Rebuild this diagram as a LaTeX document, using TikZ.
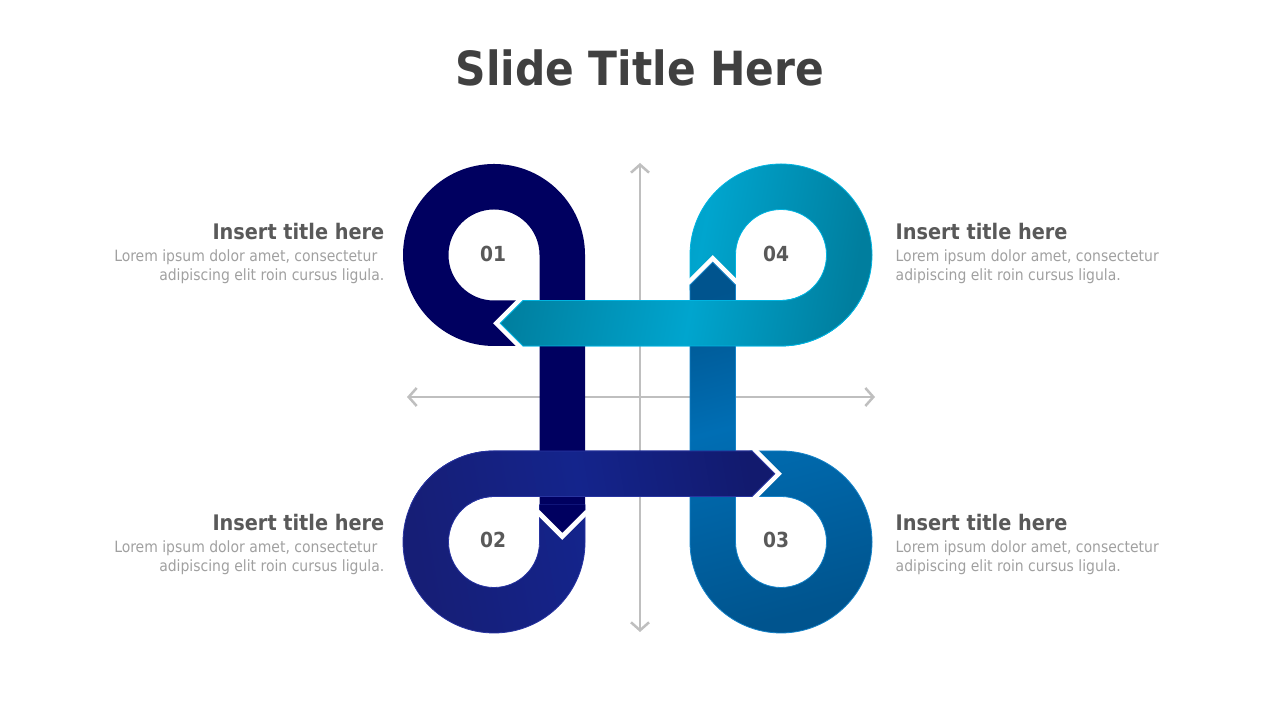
\documentclass[tikz,border=0pt]{standalone}
\usepackage{fontspec}
\setmainfont{DejaVu Sans Condensed}
\usetikzlibrary{arrows.meta}

\definecolor{titlegray}{RGB}{64,64,64}
\definecolor{numgray}{RGB}{89,89,89}
\definecolor{loremgray}{RGB}{160,160,160}
\definecolor{axisgray}{RGB}{191,191,191}
\definecolor{navyA}{RGB}{0,0,96}
\definecolor{blueBa}{RGB}{22,30,118}
\definecolor{blueBb}{RGB}{20,36,140}
\definecolor{blueBc}{RGB}{18,26,110}
\definecolor{blueBedge}{RGB}{40,52,160}
\definecolor{blueCa}{RGB}{0,84,142}
\definecolor{blueCb}{RGB}{0,110,180}
\definecolor{blueCedge}{RGB}{20,130,200}
\definecolor{tealDa}{RGB}{0,126,158}
\definecolor{tealDb}{RGB}{0,165,206}
\definecolor{tealDedge}{RGB}{0,180,225}

\pgfdeclarehorizontalshading{shadeB}{100bp}{color(0bp)=(blueBa); color(25bp)=(blueBa); color(50bp)=(blueBb); color(75bp)=(blueBc); color(100bp)=(blueBc)}
\pgfdeclareverticalshading{shadeC}{100bp}{color(0bp)=(blueCa); color(25bp)=(blueCa); color(55bp)=(blueCb); color(75bp)=(blueCa); color(100bp)=(blueCa)}
\pgfdeclarehorizontalshading{shadeD}{100bp}{color(0bp)=(tealDa); color(25bp)=(tealDa); color(52bp)=(tealDb); color(75bp)=(tealDa); color(100bp)=(tealDa)}

% loop 02 and loop 04 are drawn twice (second time clipped), so keep their paths here
\newcommand{\shapeB}{%
\draw[headline] (7.52,2.69)--(7.7475,2.4625)--(7.52,2.235);
\shadedraw[shading=shadeB, shading angle=10, draw=blueBedge, line width=.08mm] (5.85,2.15)--(5.85,1.78) arc[start angle=0, end angle=-270, radius=.91]--(7.52,2.69)--(7.7475,2.4625)--(7.52,2.235)--(4.94,2.235) arc[start angle=90, end angle=360, radius=.455]--(5.395,2.15)--cycle;}
\newcommand{\shapeD}{%
\draw[headline] (5.23,3.74)--(5.0025,3.9675)--(5.23,4.195);
\shadedraw[shading=shadeD, shading angle=-10, draw=tealDedge, line width=.08mm] (6.90,4.30)--(6.90,4.65) arc[start angle=180, end angle=-90, radius=.91]--(5.23,3.74)--(5.0025,3.9675)--(5.23,4.195)--(7.81,4.195) arc[start angle=-90, end angle=180, radius=.455]--(7.355,4.30)--cycle;}

\begin{document}
\begin{tikzpicture}[
  crossaxis/.style={draw=axisgray, line width=.25mm, {Straight Barb[length=.8mm,width=1.8mm]}-{Straight Barb[length=.8mm,width=1.8mm]}},
  headline/.style={white, line width=1mm},
  slidetitle/.style={font=\bfseries\fontsize{13.4}{16}\selectfont, text=titlegray},
  stepnum/.style={font=\bfseries\fontsize{5.9}{7}\selectfont, text=numgray},
  heading/.style={font=\bfseries\fontsize{6.1}{7.3}\selectfont, text=numgray, inner sep=0},
  lorem/.style={font=\fontsize{4.42}{5.4}\selectfont, text=loremgray, inner sep=0}
]
\useasboundingbox (0,0) rectangle (12.8,7.2);

\node[slidetitle] (title) at (6.40,6.52) {Slide Title Here};

% axes
\draw[crossaxis] (6.40,5.57)--(6.40,0.88);
\draw[crossaxis] (4.07,3.23)--(8.75,3.23);

% lower layer
\shapeB
\shapeD

% loop 01
\draw[headline] (5.395,2.10)--(5.6225,1.8725)--(5.85,2.10);
\fill[navyA] (5.20,3.74)--(4.94,3.74) arc[start angle=-90, end angle=-360, radius=.91]--(5.85,2.10)--(5.6225,1.8725)--(5.395,2.10)--(5.395,4.65) arc[start angle=0, end angle=270, radius=.455]--(5.20,4.195)--cycle;

% loop 03
\draw[headline] (6.90,4.35)--(7.1275,4.5775)--(7.355,4.35);
\shadedraw[shading=shadeC, shading angle=15, draw=blueCedge, line width=.08mm] (7.50,2.69)--(7.81,2.69) arc[start angle=90, end angle=-180, radius=.91]--(6.90,4.35)--(7.1275,4.5775)--(7.355,4.35)--(7.355,1.78) arc[start angle=180, end angle=450, radius=.455]--(7.50,2.235)--cycle;

% horizontal bands on top
\begin{scope}
\clip (0,2.15) rectangle (12.8,7.2);
\shapeB
\end{scope}
\begin{scope}
\clip (0,0) rectangle (12.8,4.25);
\shapeD
\end{scope}

% numbers
\node[stepnum] (n1) at (4.93,4.66) {01};
\node[stepnum] (n2) at (4.93,1.80) {02};
\node[stepnum] (n3) at (7.76,1.80) {03};
\node[stepnum] (n4) at (7.76,4.66) {04};

% texts
\node[heading, anchor=base east] (h1) at (3.85,4.80) {Insert title here};
\node[lorem, anchor=north east, align=right] (d1) at (3.85,4.71) {Lorem ipsum dolor amet, consectetur\hspace*{.7mm}\\adipiscing elit roin cursus ligula.};
\node[heading, anchor=base west] (h4) at (8.95,4.80) {Insert title here};
\node[lorem, anchor=north west, align=left] (d4) at (8.95,4.71) {Lorem ipsum dolor amet, consectetur\\adipiscing elit roin cursus ligula.};
\node[heading, anchor=base east] (h2) at (3.85,1.89) {Insert title here};
\node[lorem, anchor=north east, align=right] (d2) at (3.85,1.80) {Lorem ipsum dolor amet, consectetur\hspace*{.7mm}\\adipiscing elit roin cursus ligula.};
\node[heading, anchor=base west] (h3) at (8.95,1.89) {Insert title here};
\node[lorem, anchor=north west, align=left] (d3) at (8.95,1.80) {Lorem ipsum dolor amet, consectetur\\adipiscing elit roin cursus ligula.};
\end{tikzpicture}
\end{document}
